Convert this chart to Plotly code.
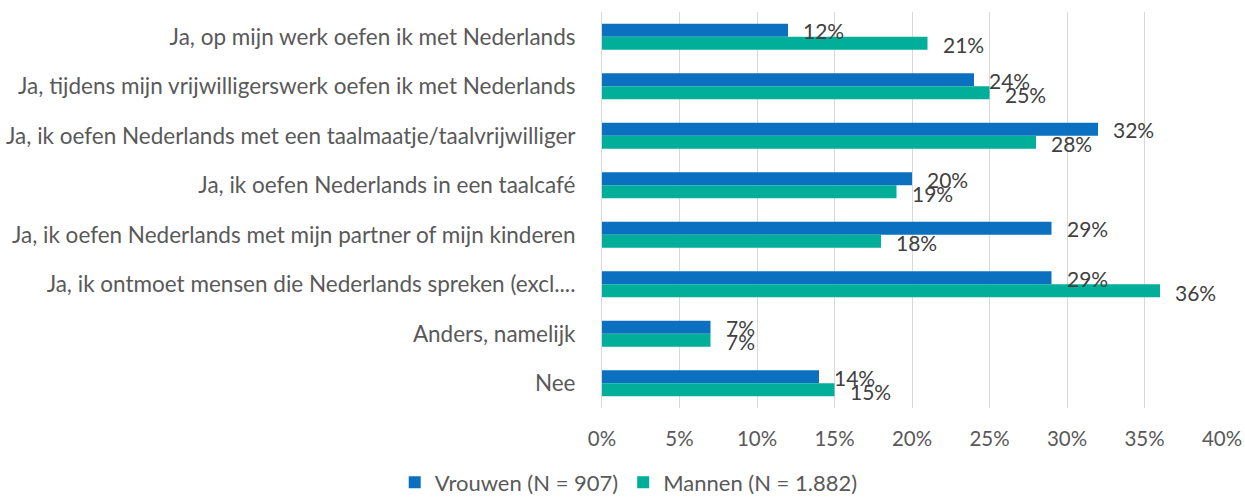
import plotly.graph_objects as go

categories = [
    "Ja, op mijn werk oefen ik met Nederlands",
    "Ja, tijdens mijn vrijwilligerswerk oefen ik met Nederlands",
    "Ja, ik oefen Nederlands met een taalmaatje/taalvrijwilliger",
    "Ja, ik oefen Nederlands in een taalcafé",
    "Ja, ik oefen Nederlands met mijn partner of mijn kinderen",
    "Ja, ik ontmoet mensen die Nederlands spreken (excl....",
    "Anders, namelijk",
    "Nee",
]
vrouwen = [12, 24, 32, 20, 29, 29, 7, 14]
mannen = [21, 25, 28, 19, 18, 36, 7, 15]
series_names = ["Vrouwen (N = 907)", "Mannen (N = 1.882)"]
tick_values = [0, 5, 10, 15, 20, 25, 30, 35, 40]
tick_labels = [f"{v}%" for v in tick_values]

BLUE = "#0A70BF"
TEAL = "#00AE9A"
FONT = "Lato"

fig = go.Figure()
for name, vals, color in [(series_names[0], vrouwen, BLUE), (series_names[1], mannen, TEAL)]:
    fig.add_trace(go.Bar(
        y=categories, x=vals, name=name, orientation="h",
        marker=dict(color=color, line=dict(width=0)),
        hoverinfo="x+y",
    ))

# value labels just past the end of each bar
annotations = []
for vals, shift in [(vrouwen, 6), (mannen, -8)]:
    for cat, v in zip(categories, vals):
        annotations.append(dict(
            x=v, y=cat, xref="x", yref="y", text=f"{v}%",
            showarrow=False, xanchor="left", yanchor="middle",
            xshift=13, yshift=shift,
            font=dict(family=FONT, size=21, color="#404040"),
        ))

fig.update_layout(
    width=1245, height=499,
    margin=dict(l=602, r=23, t=12, b=91, autoexpand=False),
    paper_bgcolor="white", plot_bgcolor="white",
    barmode="group", bargap=0.475, bargroupgap=0,
    font=dict(family=FONT, color="#595959"),
    annotations=annotations,
    legend=dict(
        orientation="h", x=0.505, xref="container", xanchor="center",
        y=-0.188, yref="paper", yanchor="middle",
        font=dict(family=FONT, size=22, color="#595959"),
        itemwidth=30, traceorder="normal",
    ),
    showlegend=True,
)
fig.update_xaxes(
    range=[0, 40], tickvals=tick_values, ticktext=tick_labels,
    showgrid=True, gridcolor="#D9D9D9", gridwidth=1,
    zeroline=False, showline=False,
    tickfont=dict(family=FONT, size=20.5, color="#595959"),
    ticks="", ticklabelstandoff=16,
)
fig.update_yaxes(
    autorange="reversed", showgrid=False,
    showline=True, linecolor="#D9D9D9", linewidth=1,
    ticks="", ticklabelstandoff=21,
    tickfont=dict(family=FONT, size=22.5, color="#595959"),
)

fig.write_html("out.html")
